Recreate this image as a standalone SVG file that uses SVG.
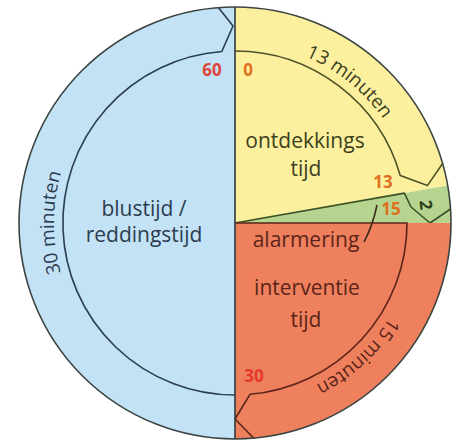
<svg xmlns="http://www.w3.org/2000/svg" width="462" height="448" viewBox="0 0 462 448">
<style>
.lbl{font-family:"Open Sans","Noto Sans","Liberation Sans",sans-serif;font-size:21px;text-anchor:middle}
.band{font-family:"Open Sans","Noto Sans","Liberation Sans",sans-serif;font-size:19px;text-anchor:middle}
.num{font-family:"Open Sans","Noto Sans","Liberation Sans",sans-serif;font-size:17px;font-weight:700;text-anchor:middle}
.ln{fill:none;stroke-width:1.6;stroke-linejoin:round}
</style>
<defs>
<path id="ring" d="M235,42 A181,181 0 0 1 235,404 A181,181 0 0 1 235,42"/>
</defs>
<rect width="462" height="448" fill="#ffffff"/>
<g id="blustijd">
<path d="M235,7 A216,216 0 0 0 235,439 Z" fill="#c3e2f6"/>
<path class="ln" stroke="#2c3d50" d="M235,395 A172,172 0 0 1 221.8,51.5 L233,26 L218.4,7.6"/>
<text class="band" fill="#2c3d50"><textPath href="#ring" startOffset="853">30 minuten</textPath></text>
<text class="lbl" fill="#2c3d50" font-size="20" x="144" y="216">blustijd /</text>
<text class="lbl" fill="#2c3d50" font-size="20" x="144" y="242">reddingstijd</text>
<text class="num" fill="#e0453c" x="212" y="76">60</text>
</g>
<g id="ontdekkingstijd">
<path d="M235,223 L235,7 A216,216 0 0 1 447.7,185.5 Z" fill="#fcf09e"/>
<path class="ln" stroke="#4d5228" d="M235,51 A172,172 0 0 1 400.3,175.6 L427.4,185.6 L442.6,163.5"/>
<text class="band" fill="#3d4020"><textPath href="#ring" startOffset="123">13 minuten</textPath></text>
<text class="lbl" fill="#3d4020" x="305" y="148">ontdekkings</text>
<text class="lbl" fill="#3d4020" x="306" y="176">tijd</text>
<text class="num" fill="#e0701e" x="248" y="76">0</text>
<text class="num" fill="#e0701e" x="383" y="188">13</text>
</g>
<g id="alarmering">
<path d="M235,223 L447.7,185.5 A216,216 0 0 1 451,223 Z" fill="#b6d48f"/>
<path class="ln" stroke="#3a5226" d="M235,223 L404.4,193.1 L411,207 L430,223 L450.5,209"/>
<text class="num" fill="#2e4020" font-size="16" transform="translate(426,205) rotate(84)" dy="6">2</text>
<text class="num" fill="#e0701e" x="391" y="215">15</text>
</g>
<g id="interventietijd">
<path d="M235,223 L451,223 A216,216 0 0 1 235,439 Z" fill="#ef805e"/>
<path class="ln" stroke="#5a2518" d="M235,223 H407 A172,172 0 0 1 250,394.3 L235,419 L253.8,438.2"/>
<text class="band" fill="#5a2518"><textPath href="#ring" startOffset="434">15 minuten</textPath></text>
<text class="lbl" fill="#5a2518" x="306" y="247">alarmering</text>
<text class="lbl" fill="#5a2518" x="307" y="295">interventie</text>
<text class="lbl" fill="#5a2518" x="306" y="327">tijd</text>
<text class="num" fill="#e5392c" x="254" y="382">30</text>
</g>
<g id="connectors">
<path class="ln" stroke="#3a2a1a" stroke-width="1.3" d="M377,205 Q373,225 364,242"/>
</g>
<g id="outline">
<circle cx="235" cy="223" r="216" fill="none" stroke="#3a4440" stroke-width="1.6"/>
<line x1="235" y1="7" x2="235" y2="439" stroke="#2f3a3a" stroke-width="1.6"/>
</g>
</svg>
